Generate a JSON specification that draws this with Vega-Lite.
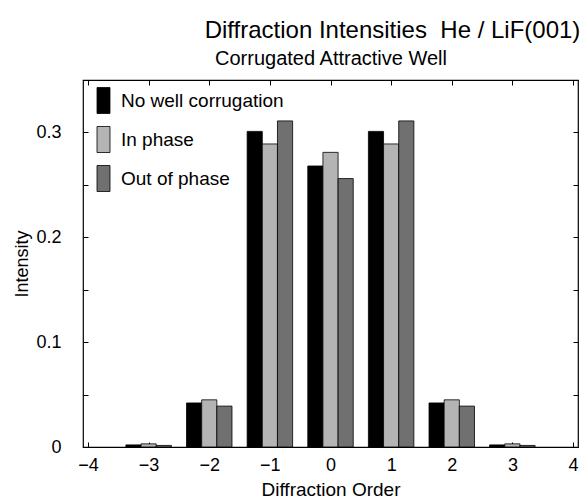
{
  "$schema": "https://vega.github.io/schema/vega-lite/v6.json",
  "autosize": "none",
  "width": 495,
  "height": 367,
  "padding": {"left": 83, "top": 80, "right": 6, "bottom": 56},
  "background": "white",
  "config": {
    "font": "Liberation Sans",
    "view": {"stroke": "black", "strokeWidth": 1.2},
    "axis": {"grid": false, "domainColor": "black", "tickColor": "black", "labelColor": "black", "titleColor": "black", "labelFont": "Liberation Sans", "titleFont": "Liberation Sans", "titleFontWeight": "normal"}
  },
  "title": {
    "text": "Diffraction Intensities\u00a0 He / LiF(001)",
    "fontSize": 24,
    "fontWeight": "normal",
    "color": "black",
    "anchor": "middle",
    "dx": 62,
    "offset": 6
  },
  "data": {
    "values": [
      {"order": -3, "series": "No well corrugation", "value": 0.002},
      {"order": -3, "series": "In phase", "value": 0.003},
      {"order": -3, "series": "Out of phase", "value": 0.0015},
      {"order": -2, "series": "No well corrugation", "value": 0.042},
      {"order": -2, "series": "In phase", "value": 0.045},
      {"order": -2, "series": "Out of phase", "value": 0.039},
      {"order": -1, "series": "No well corrugation", "value": 0.301},
      {"order": -1, "series": "In phase", "value": 0.289},
      {"order": -1, "series": "Out of phase", "value": 0.311},
      {"order": 0, "series": "No well corrugation", "value": 0.268},
      {"order": 0, "series": "In phase", "value": 0.281},
      {"order": 0, "series": "Out of phase", "value": 0.256},
      {"order": 1, "series": "No well corrugation", "value": 0.301},
      {"order": 1, "series": "In phase", "value": 0.289},
      {"order": 1, "series": "Out of phase", "value": 0.311},
      {"order": 2, "series": "No well corrugation", "value": 0.042},
      {"order": 2, "series": "In phase", "value": 0.045},
      {"order": 2, "series": "Out of phase", "value": 0.039},
      {"order": 3, "series": "No well corrugation", "value": 0.002},
      {"order": 3, "series": "In phase", "value": 0.003},
      {"order": 3, "series": "Out of phase", "value": 0.0015}
    ]
  },
  "transform": [
    {"calculate": "indexof(['No well corrugation','In phase','Out of phase'], datum.series)", "as": "idx"},
    {"calculate": "datum.order - 0.375 + datum.idx * 0.25", "as": "x1"},
    {"calculate": "datum.x1 + 0.25", "as": "x2"}
  ],
  "layer": [
    {
      "mark": {"type": "bar", "stroke": "black", "strokeWidth": 0.8, "orient": "vertical"},
      "encoding": {
        "x": {
          "field": "x1", "type": "quantitative",
          "scale": {"domain": [-4, 4], "nice": false, "zero": false},
          "axis": {"title": "Diffraction Order", "values": [-4, -3, -2, -1, 0, 1, 2, 3, 4], "format": "d", "tickSize": -5, "labelPadding": 14, "labelFontSize": 18, "titleFontSize": 19, "titlePadding": 6, "domain": false}
        },
        "x2": {"field": "x2"},
        "y": {
          "field": "value", "type": "quantitative",
          "scale": {"domain": [0, 0.35], "nice": false},
          "axis": {"title": "Intensity", "values": [0, 0.05, 0.1, 0.15, 0.2, 0.25, 0.3, 0.35], "format": ".2~f", "labelExpr": "abs(datum.value*10 - round(datum.value*10)) < 0.01 ? datum.label : ''", "tickSize": -5, "labelPadding": 27, "labelFontSize": 18, "titleFontSize": 18, "titlePadding": 4, "domain": false}
        },
        "y2": {"datum": 0},
        "color": {
          "field": "series", "type": "nominal",
          "scale": {"domain": ["No well corrugation", "In phase", "Out of phase"], "range": ["#000000", "#b4b4b4", "#707070"]},
          "legend": {
            "title": null,
            "orient": "none",
            "legendX": 7,
            "legendY": 7,
            "symbolType": "M-0.5,-1H0.5V1H-0.5Z",
            "symbolSize": 676,
            "symbolStrokeColor": "black",
            "symbolStrokeWidth": 0.8,
            "labelFontSize": 19,
            "labelColor": "black",
            "labelLimit": 400,
            "labelOffset": 4,
            "rowPadding": 8
          }
        }
      }
    },
    {
      "mark": {"type": "bar", "opacity": 0, "orient": "vertical"},
      "encoding": {
        "x": {
          "field": "x1", "type": "quantitative",
          "axis": {"orient": "top", "title": "Corrugated Attractive Well", "values": [-4, -3, -2, -1, 0, 1, 2, 3, 4], "labels": false, "tickSize": -5, "titleFontSize": 20, "titlePadding": 11, "domain": false}
        },
        "x2": {"field": "x2"},
        "y": {
          "field": "value", "type": "quantitative",
          "axis": {"orient": "right", "title": null, "values": [0, 0.05, 0.1, 0.15, 0.2, 0.25, 0.3, 0.35], "labels": false, "tickSize": -5, "domain": false}
        },
        "y2": {"datum": 0}
      }
    }
  ],
  "resolve": {"axis": {"x": "independent", "y": "independent"}}
}
